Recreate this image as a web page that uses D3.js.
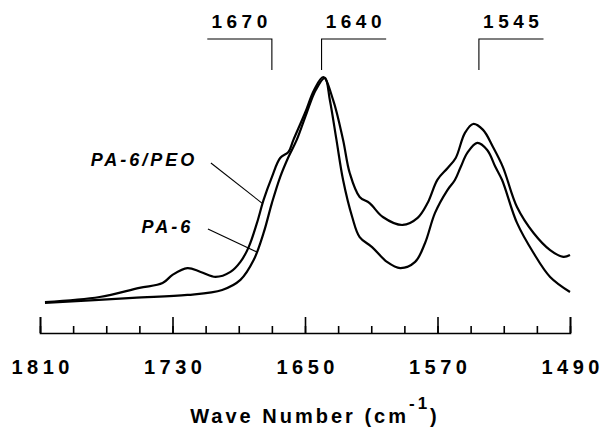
<!DOCTYPE html>
<html lang="en">
<head>
<meta charset="utf-8">
<title>PA-6 / PA-6/PEO amide bands</title>
<style>
  body { margin: 0; background: #fff; }
  svg { display: block; }
  text { font-family: "Liberation Sans", Arial, sans-serif; font-weight: bold; fill: #000; }
</style>
</head>
<body>
<svg id="chart"></svg>
<script src="https://d3js.org/d3.v7.min.js"></script>
<script>
const width = 604;
const height = 429;

// spectra (wave number, relative absorbance)
const peoWave = [1807, 1774, 1750, 1736, 1730, 1721, 1713, 1704, 1695, 1689, 1684, 1679, 1675, 1670, 1665, 1660, 1657, 1650, 1644.5, 1639,
                 1633, 1627, 1623, 1617, 1611, 1603, 1591, 1582, 1576, 1570, 1564, 1559, 1553.5, 1548.5, 1542.5, 1536.5, 1530.5, 1522, 1512, 1502, 1494, 1490];
const peoAbs  = [0.013, 0.035, 0.075, 0.096, 0.132, 0.162, 0.145, 0.123, 0.145, 0.189, 0.254, 0.360, 0.461, 0.561, 0.645, 0.671, 0.724, 0.842, 0.943, 1.0,
                 0.899, 0.724, 0.579, 0.474, 0.447, 0.386, 0.351, 0.382, 0.447, 0.550, 0.600, 0.645, 0.754, 0.794, 0.768, 0.693, 0.605, 0.430, 0.316, 0.241, 0.211, 0.219];

const pa6Wave = [1807, 1754, 1721, 1700, 1689, 1681, 1675, 1670, 1665, 1660, 1655, 1649, 1643.5, 1638, 1635, 1631, 1627, 1621.5, 1617, 1609.5,
                 1600.5, 1592.5, 1583.5, 1577.5, 1571.5, 1564, 1559.5, 1556, 1552, 1546, 1540, 1535, 1531, 1522, 1512, 1502, 1490];
const pa6Abs  = [0.009, 0.031, 0.044, 0.066, 0.110, 0.197, 0.316, 0.447, 0.561, 0.649, 0.724, 0.842, 0.943, 0.996, 0.899, 0.724, 0.548, 0.386, 0.298, 0.254,
                 0.189, 0.162, 0.189, 0.272, 0.404, 0.504, 0.548, 0.605, 0.667, 0.711, 0.680, 0.605, 0.548, 0.360, 0.228, 0.123, 0.057];

// axis
const xDomain = [1810, 1490];
const majorTicks = [1810, 1730, 1650, 1570, 1490];
const minorTicks = d3.range(1810, 1489, -20);

// band markers at the top
const bandWaves  = [1670, 1640, 1545];
const bandLabels = ["1670", "1640", "1545"];
const bandSide   = [-1, 1, 1];   // which way the bracket arm points
const bandArm    = 39;           // arm length in cm-1

// curve labels
const seriesNames = ["PA-6/PEO", "PA-6"];
const labelWave   = [1715, 1717.5];
const labelAbs    = [0.61, 0.316];
const leaderFrom  = [[1706.8, 0.623], [1708.6, 0.333]];
const leaderTo    = [[1676, 0.447], [1679, 0.232]];

const x = d3.scaleLinear().domain(xDomain).range([40, 570]);
const y = d3.scaleLinear().domain([0, 1]).range([305, 77]);
const axisY = 333;

const svg = d3.select("#chart").attr("width", width).attr("height", height);
svg.append("rect").attr("width", width).attr("height", height).attr("fill", "#fff");

const line = d3.line()
  .x(d => x(d[0]))
  .y(d => y(d[1]))
  .curve(d3.curveCatmullRom.alpha(0.5));

const series = [
  peoWave.map((w, i) => [w, peoAbs[i]]),
  pa6Wave.map((w, i) => [w, pa6Abs[i]])
];

svg.selectAll("path.spectrum")
  .data(series)
  .enter().append("path")
  .attr("class", "spectrum")
  .attr("d", line)
  .attr("fill", "none")
  .attr("stroke", "#000")
  .attr("stroke-width", 2.2)
  .attr("stroke-linejoin", "round");

// minor ticks
svg.append("g")
  .attr("transform", `translate(0,${axisY})`)
  .call(d3.axisTop(x).tickValues(minorTicks).tickSize(7).tickSizeOuter(0).tickFormat(""))
  .call(g => g.select(".domain").remove())
  .call(g => g.selectAll("line").attr("stroke-width", 1.6));

// major ticks + baseline
svg.append("g")
  .attr("transform", `translate(0,${axisY})`)
  .call(d3.axisTop(x).tickValues(majorTicks).tickSize(16).tickSizeOuter(16).tickFormat(""))
  .call(g => g.select(".domain").attr("stroke-width", 1.6))
  .call(g => g.selectAll("line").attr("stroke-width", 1.6));

// tick labels
svg.append("g")
  .attr("transform", `translate(0,${axisY})`)
  .call(d3.axisBottom(x).tickValues(majorTicks).tickSize(0).tickPadding(27).tickFormat(d3.format("d")))
  .call(g => g.select(".domain").remove())
  .call(g => g.selectAll("text")
    .attr("font-family", "Liberation Sans, Arial, sans-serif")
    .attr("font-weight", "bold")
    .attr("font-size", 20)
    .attr("letter-spacing", 4.5)
    .attr("dx", 2.2)
    .attr("fill", "#000"));

// axis title
const title = svg.append("text")
  .attr("x", 315)
  .attr("y", 423)
  .attr("text-anchor", "middle")
  .attr("font-size", 20)
  .attr("letter-spacing", 3);
title.append("tspan").text("Wave  Number  (cm");
title.append("tspan").attr("dy", -14).attr("font-size", 17).text("-1");
title.append("tspan").attr("dy", 14).text(")");

// band brackets
const bTop = y.invert(39), bBot = y.invert(70), bText = y.invert(28);
const bands = svg.selectAll("g.band")
  .data(bandWaves.map((w, i) => ({ w, label: bandLabels[i], side: bandSide[i] })))
  .enter().append("g").attr("class", "band");

bands.append("path")
  .attr("d", d => `M${x(d.w - d.side * bandArm)},${y(bTop)}H${x(d.w)}V${y(bBot)}`)
  .attr("fill", "none")
  .attr("stroke", "#000")
  .attr("stroke-width", 1.1);

bands.append("text")
  .attr("x", d => (x(d.w) + x(d.w - d.side * bandArm)) / 2 + 2)
  .attr("y", y(bText))
  .attr("text-anchor", "middle")
  .attr("font-size", 19)
  .attr("letter-spacing", 4.5)
  .text(d => d.label);

// curve labels and leader lines
svg.selectAll("text.series")
  .data(seriesNames)
  .enter().append("text")
  .attr("class", "series")
  .attr("x", (d, i) => x(labelWave[i]))
  .attr("y", (d, i) => y(labelAbs[i]))
  .attr("text-anchor", "end")
  .attr("font-size", 18)
  .attr("font-style", "italic")
  .attr("letter-spacing", 3)
  .text(d => d);

svg.selectAll("line.leader")
  .data(seriesNames)
  .enter().append("line")
  .attr("class", "leader")
  .attr("x1", (d, i) => x(leaderFrom[i][0]))
  .attr("y1", (d, i) => y(leaderFrom[i][1]))
  .attr("x2", (d, i) => x(leaderTo[i][0]))
  .attr("y2", (d, i) => y(leaderTo[i][1]))
  .attr("stroke", "#000")
  .attr("stroke-width", 1.1);
</script>
</body>
</html>
